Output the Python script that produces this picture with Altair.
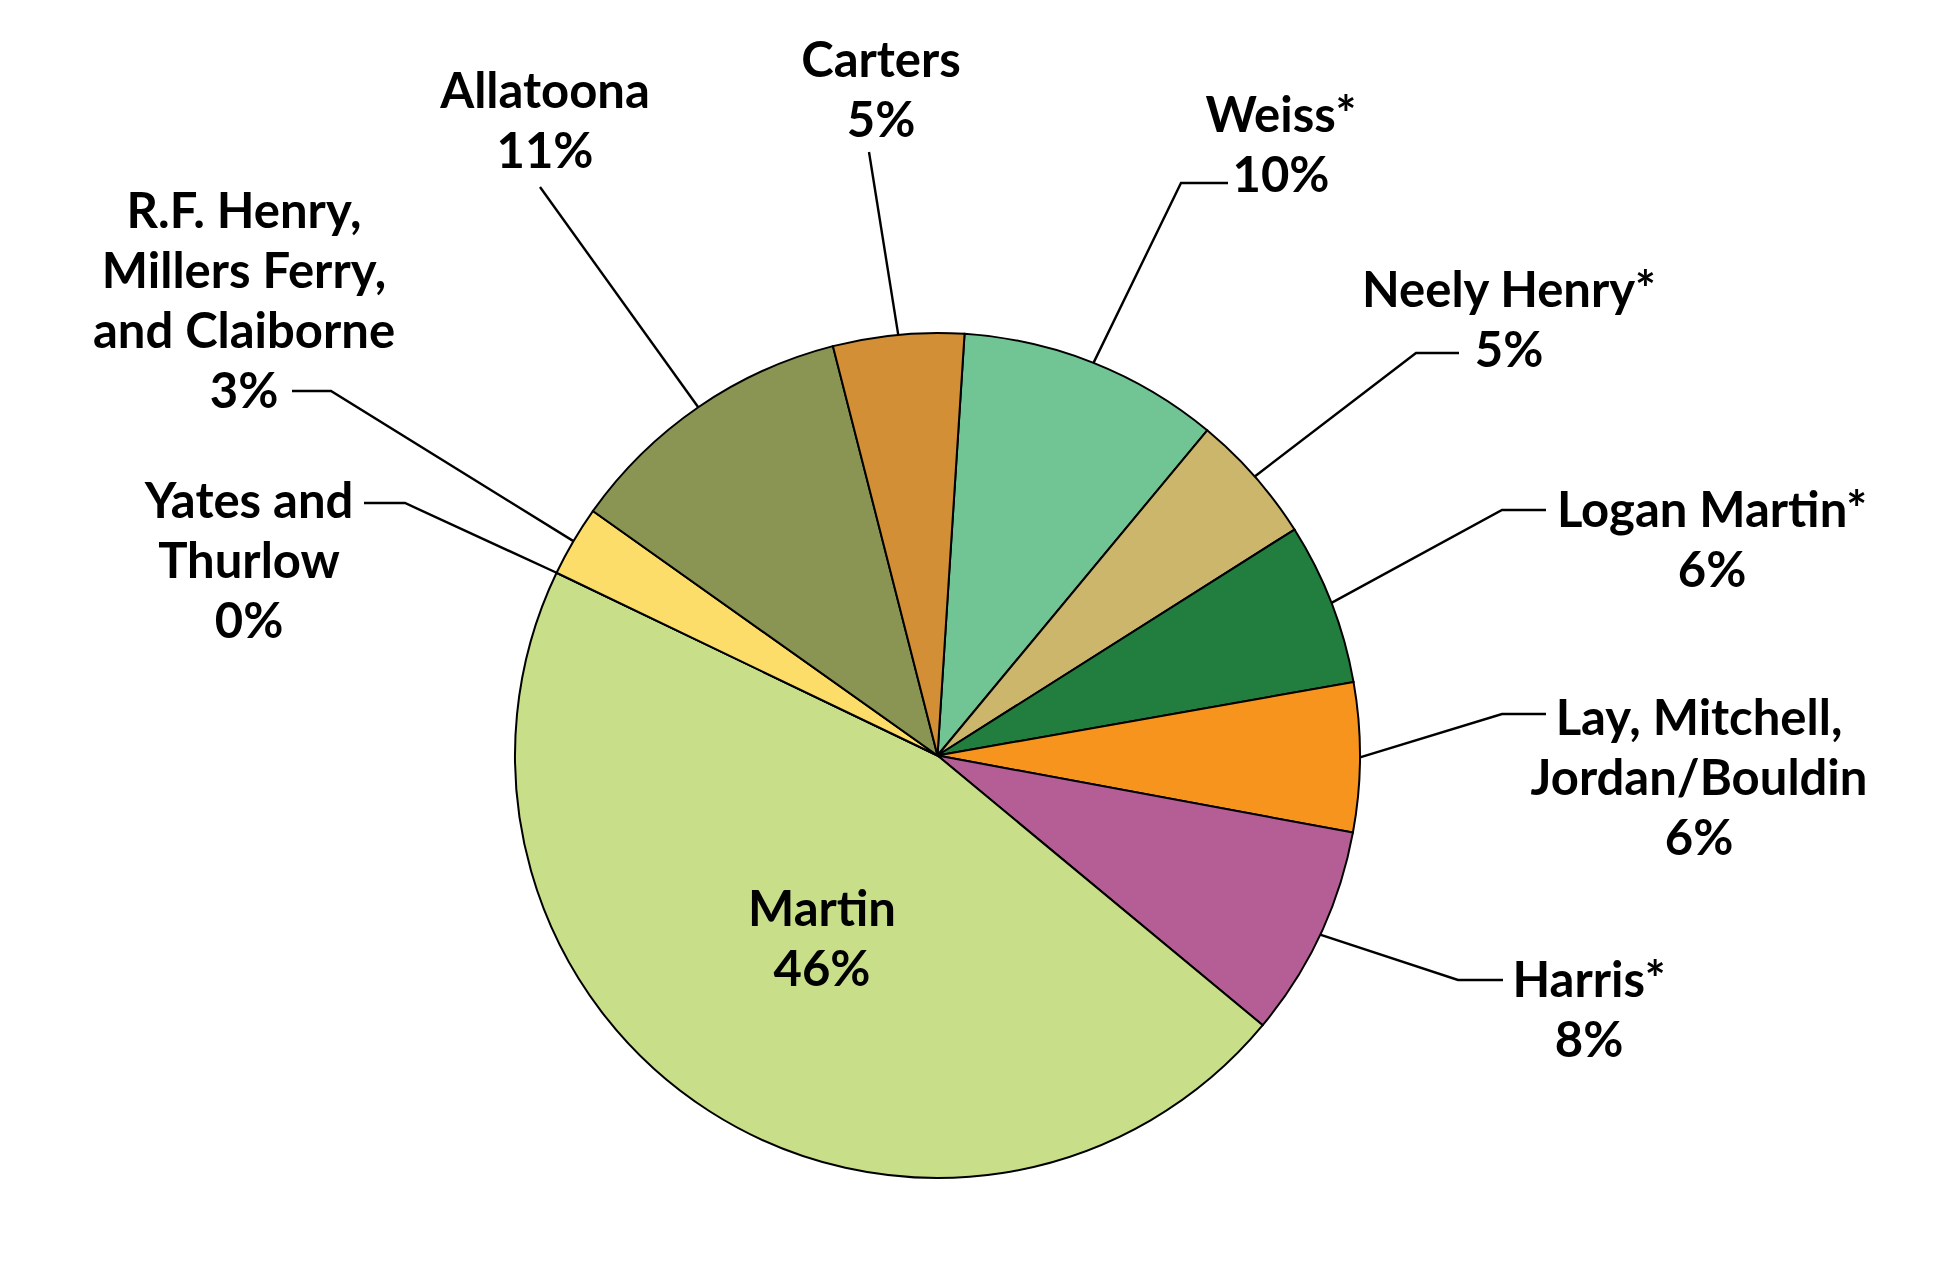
import math
import altair as alt
import pandas as pd

# ---- data ----
names = ["Weiss*", "Neely Henry*", "Logan Martin*", "Lay, Mitchell,\nJordan/Bouldin",
         "Harris*", "Martin", "Yates and\nThurlow", "R.F. Henry,\nMillers Ferry,\nand Claiborne",
         "Allatoona", "Carters"]
values = [10.0, 5.0, 6.2, 5.7, 8.1, 46.1, 0.0, 2.7, 11.2, 5.0]
pct_labels = ["10%", "5%", "6%", "6%", "8%", "46%", "0%", "3%", "11%", "5%"]
colors = ["#71C493", "#CBB66C", "#217E3E", "#F7941E", "#B55E96",
          "#C8DE88", "#FDDD69", "#FDDD69", "#8A9453", "#D28F35"]

# ---- layout (reference pixel coordinates) ----
W, H = 1900, 1220
CX, CY, R = 937.5, 755.5, 422.5
START = math.radians(3.67)
FONT = "Liberation Sans Narrow, Arial Narrow, Lato, sans-serif"
FS = 49
LH = 60
label_pos = {  # centre x, first baseline y
    "Weiss*": (1281, 132), "Neely Henry*": (1509, 307), "Logan Martin*": (1712, 527),
    "Lay, Mitchell,\nJordan/Bouldin": (1699, 735), "Harris*": (1589, 997),
    "Martin": (822, 926), "Yates and\nThurlow": (249, 518),
    "R.F. Henry,\nMillers Ferry,\nand Claiborne": (244, 228),
    "Allatoona": (545, 108), "Carters": (881, 77),
}
leader_start = {  # label-side points of each leader line
    "Weiss*": [(1228, 183), (1181, 183)],
    "Neely Henry*": [(1459, 353), (1416, 353)],
    "Logan Martin*": [(1546, 510), (1502, 510)],
    "Lay, Mitchell,\nJordan/Bouldin": [(1546, 714), (1502, 714)],
    "Harris*": [(1503, 980), (1458, 980)],
    "Yates and\nThurlow": [(364, 503), (405, 503)],
    "R.F. Henry,\nMillers Ferry,\nand Claiborne": [(292, 391), (331, 391)],
    "Allatoona": [(540, 187)],
    "Carters": [(869, 152)],
}

df = pd.DataFrame({"name": names, "value": values, "pct": pct_labels,
                   "idx": list(range(len(names)))})
df["label"] = df["name"] + "\n" + df["pct"]
df["lx"] = [label_pos[n][0] for n in names]
df["ly"] = [label_pos[n][1] for n in names]

# leader lines end on the pie edge at each slice's mid angle
total = sum(values)
rows = []
cum = 0.0
for n, v in zip(names, values):
    mid = START + 2 * math.pi * (cum + v / 2) / total
    cum += v
    if n in leader_start:
        pts = leader_start[n] + [(CX + R * math.sin(mid), CY - R * math.cos(mid))]
        for k, (px, py) in enumerate(pts):
            rows.append({"g": n, "k": k, "x": px, "y": py})
lines = pd.DataFrame(rows)

xs = alt.Scale(domain=[8, 8 + W], nice=False, zero=False)
ys = alt.Scale(domain=[8 + H, 8], nice=False, zero=False)

pie = alt.Chart(df).mark_arc(outerRadius=R, stroke="black", strokeWidth=2).encode(
    theta=alt.Theta("value:Q", stack=True,
                    scale=alt.Scale(range=[START, START + 2 * math.pi])),
    color=alt.Color("name:N", scale=alt.Scale(domain=names, range=colors), legend=None),
    order=alt.Order("idx:Q"),
    x=alt.datum(CX, scale=xs, axis=None),
    y=alt.datum(CY, scale=ys, axis=None),
)

leaders = alt.Chart(lines).mark_line(color="black", strokeWidth=2.4).encode(
    x=alt.X("x:Q", scale=xs, axis=None),
    y=alt.Y("y:Q", scale=ys, axis=None),
    detail="g:N",
    order="k:Q",
)

text = alt.Chart(df).mark_text(
    font=FONT, fontSize=FS, fontWeight="bold", color="black",
    align="center", baseline="alphabetic", lineBreak="\n", lineHeight=LH,
).encode(
    x=alt.X("lx:Q", scale=xs, axis=None),
    y=alt.Y("ly:Q", scale=ys, axis=None),
    text="label:N",
)

chart = alt.layer(pie, leaders, text).properties(
    width=W, height=H, padding=0, autosize=alt.AutoSizeParams(type="none"),
).configure_view(stroke=None)

chart.save("out.html", embed_options={"renderer": "svg", "actions": False})
